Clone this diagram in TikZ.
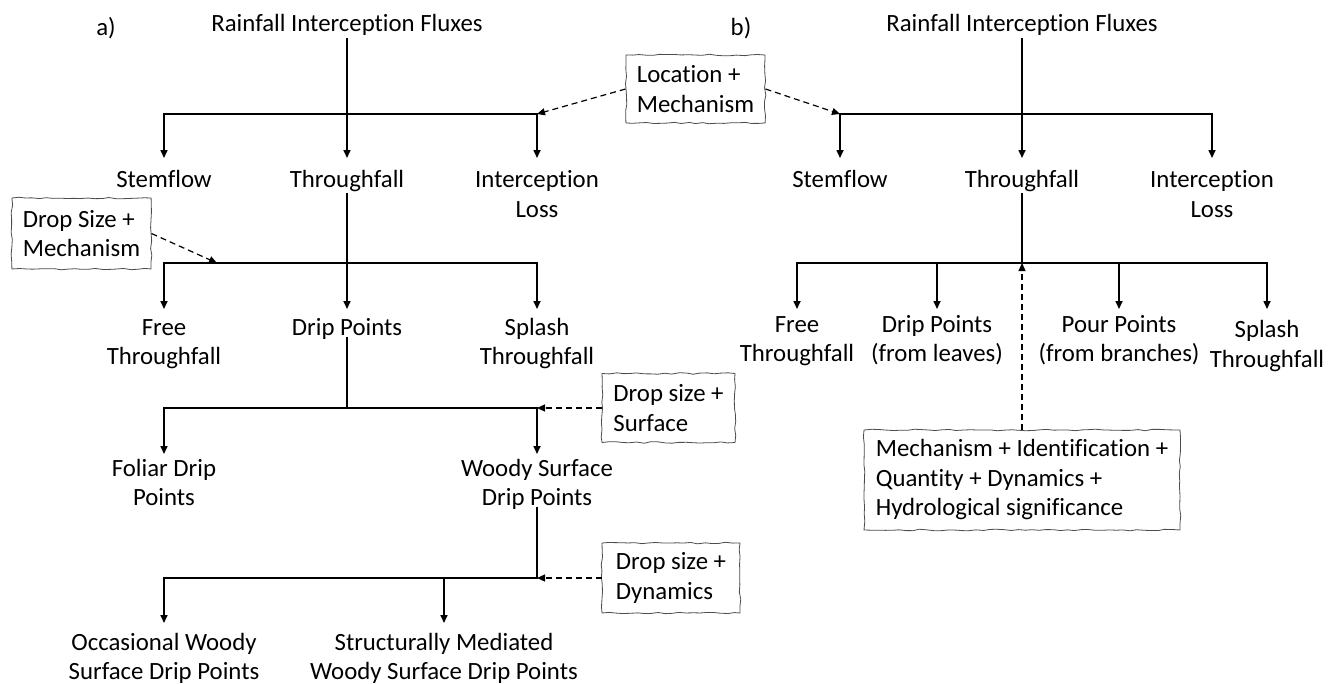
\documentclass[tikz,border=0pt]{standalone}
\usepackage{fontspec}
\setmainfont{Carlito}[Ligatures=NoCommon]
\usetikzlibrary{arrows.meta,decorations.pathmorphing}
\newcommand\figfont{\fontsize{24.8}{29.5}\selectfont}
\tikzset{
  lbl/.style={font=\figfont, align=center, inner sep=0pt, outer xsep=0pt, outer ysep=#1, anchor=north},
  lbl/.default=6pt,
  ttl/.style={font=\figfont, inner sep=0pt, anchor=base},
  trunk/.style={line width=1.6pt},
  flow/.style={line width=1.6pt, -{Triangle[length=8pt,width=7pt]}},
  hint/.style={line width=1.2pt, dash pattern=on 6pt off 4pt, -{Triangle[length=8pt,width=7pt]}},
  sketch/.style={draw=black!70, line width=0.8pt, fill=white, font=\figfont, align=left,
    inner xsep=11pt, inner ysep=0pt, line join=round, decorate,
    decoration={random steps, segment length=7pt, amplitude=0.8pt}},
}
\begin{document}
\begin{tikzpicture}[x=1pt,y=-1pt]
\pgfmathsetseed{4242}
\useasboundingbox[fill=white] (0,0) rectangle (1335,683);
% ---------- panel a ----------
\node[ttl] (aLab) at (106,35) {a)};
\node[ttl] (titleA) at (347,31) {Rainfall Interception Fluxes};
\coordinate (barA) at (0,114);
\coordinate (bar2A) at (0,263);
\coordinate (bar3A) at (0,408);
\coordinate (bar4A) at (0,578);
\node[lbl=9.3pt] (stemA) at (164,158) {\strut Stemflow};
\node[lbl=9.3pt] (thrA) at (347,158) {\strut Throughfall};
\node[lbl=9.3pt] (intA) at (537,158) {\strut Interception\\Loss};
\draw[flow] ([yshift=-3pt]titleA.south) -- (thrA);
\draw[flow] (intA |- barA) -- (stemA |- barA) -- (stemA);
\draw[flow] (stemA |- barA) -- (intA |- barA) -- (intA);

\node[lbl=5.35pt] (freeA) at (164,309) {\strut Free\\Throughfall};
\node[lbl=5.35pt] (dripA) at (347,309) {\strut Drip Points};
\node[lbl=5.35pt] (splA) at (537,309) {\strut Splash\\Throughfall};
\draw[flow] ([yshift=13pt]thrA.south) -- (dripA);
\draw[flow] (splA |- bar2A) -- (freeA |- bar2A) -- (freeA);
\draw[flow] (freeA |- bar2A) -- (splA |- bar2A) -- (splA);
\node[sketch, minimum width=139pt, minimum height=71pt] (dsmA) at (81.5,233.5) {Drop Size +\\Mechanism};
\coordinate (h2A) at (217,263);
\draw[hint] (dsmA.east) -- (h2A);

\node[lbl=1.35pt] (folA) at (164,454) {\strut Foliar Drip\\Points};
\node[lbl=1.35pt] (woodA) at (537,454) {\strut Woody Surface\\Drip Points};
\draw[trunk] ([yshift=12pt]dripA.south) -- (dripA |- bar3A);
\draw[flow] (woodA |- bar3A) -- (folA |- bar3A) -- (folA);
\draw[flow] (folA |- bar3A) -- (woodA |- bar3A) -- (woodA);
\node[sketch, minimum width=133pt, minimum height=69pt] (dssA) at (668.5,408) {Drop size +\\Surface};
\draw[hint] (dssA.west) -- (woodA |- bar3A);

\node[lbl=6.35pt] (occA) at (164,623) {\strut Occasional Woody\\Surface Drip Points};
\node[lbl=6.35pt] (strA) at (444,623) {\strut Structurally Mediated\\Woody Surface Drip Points};
\draw[flow] ([yshift=4pt]woodA.south) -- (woodA |- bar4A) -- (occA |- bar4A) -- (occA);
\draw[flow] (strA |- bar4A) -- (strA);
\node[sketch, minimum width=138pt, minimum height=70pt] (dsdA) at (671,578) {Drop size +\\Dynamics};
\draw[hint] (dsdA.west) -- (woodA |- bar4A);

% ---------- panel b ----------
\node[ttl] (bLab) at (741,35) {b)};
\node[ttl] (titleB) at (1022,31) {Rainfall Interception Fluxes};
\coordinate (barB) at (0,114);
\coordinate (bar2B) at (0,263);
\node[lbl=9.3pt] (stemB) at (840,158) {\strut Stemflow};
\node[lbl=9.3pt] (thrB) at (1022,158) {\strut Throughfall};
\node[lbl=9.3pt] (intB) at (1212,158) {\strut Interception\\Loss};
\draw[flow] ([yshift=-3pt]titleB.south) -- (thrB);
\draw[flow] (intB |- barB) -- (stemB |- barB) -- (stemB);
\draw[flow] (stemB |- barB) -- (intB |- barB) -- (intB);

\node[sketch, minimum width=139pt, minimum height=68pt] (locA) at (695.5,89) {Location +\\Mechanism};
\draw[hint] (locA.west) -- (intA |- barA);
\draw[hint] (locA.east) -- (stemB |- barB);

\node[lbl=2.35pt] (freeB) at (797,309) {\strut Free\\Throughfall};
\node[lbl=2.35pt] (dripB) at (937,309) {\strut Drip Points\\(from leaves)};
\node[lbl=2.35pt] (pourB) at (1119,309) {\strut Pour Points\\(from branches)};
\node[lbl=8pt] (splB) at (1267,309) {\strut Splash\\Throughfall};
\draw[trunk] ([yshift=13pt]thrB.south) -- (thrB |- bar2B);
\draw[flow] (splB |- bar2B) -- (freeB |- bar2B) -- (freeB);
\draw[flow] (freeB |- bar2B) -- (splB |- bar2B) -- (splB);
\draw[flow] (dripB |- bar2B) -- (dripB);
\draw[flow] (pourB |- bar2B) -- (pourB);
\node[sketch, minimum width=316pt, minimum height=100pt] (mechB) at (1022,480)
  {Mechanism + Identification +\\Quantity + Dynamics +\\Hydrological significance};
\draw[hint] (mechB.north) -- (mechB.north |- bar2B);
\end{tikzpicture}
\end{document}
